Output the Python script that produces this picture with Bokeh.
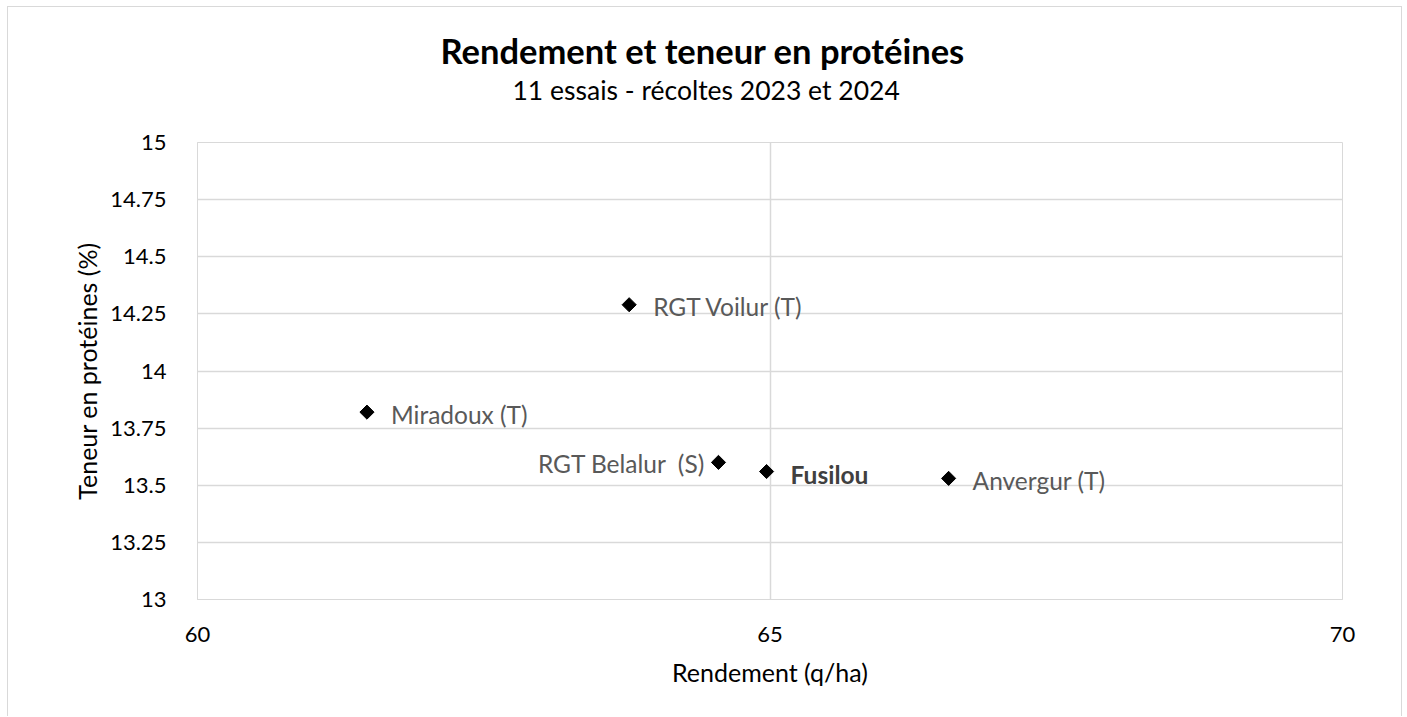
from bokeh.plotting import figure
from bokeh.models import Range1d, FixedTicker, Title, ColumnDataSource
from bokeh.embed import file_html
from bokeh.resources import INLINE

# ---- data ----
varieties = ["Miradoux (T)", "RGT Voilur (T)", "RGT Belalur \u00a0(S)", "Fusilou", "Anvergur (T)"]
rendement = [61.48, 63.77, 64.55, 64.97, 66.56]
proteines = [13.82, 14.29, 13.60, 13.56, 13.53]
x_ticks = [60, 65, 70]
x_tick_labels = ["60", "65", "70"]
y_ticks = [13, 13.25, 13.5, 13.75, 14, 14.25, 14.5, 14.75, 15]
y_tick_labels = ["13", "13.25", "13.5", "13.75", "14", "14.25", "14.5", "14.75", "15"]

title_text = "Rendement et teneur en protéines"
subtitle_text = "11 essais - récoltes 2023 et 2024"
x_title = "Rendement (q/ha)"
y_title = "Teneur en protéines (%)"

FONT = "Lato"
GRID = "#d9d9d9"

p = figure(width=1395, height=710, x_range=Range1d(60, 70), y_range=Range1d(13, 15),
           output_backend="svg", toolbar_location=None, title=title_text,
           min_border_left=189, min_border_right=61, min_border_top=135, min_border_bottom=118)
p.styles = {"margin-left": "7px", "margin-top": "6px",
            "border-left": "1px solid #d9d9d9", "border-top": "1px solid #d9d9d9",
            "border-right": "1px solid #d9d9d9"}

# spacer between subtitle and frame (closest to frame)
p.add_layout(Title(text=" ", text_font=FONT, text_font_size="29px", standoff=0), "above")
# subtitle
p.add_layout(Title(text=subtitle_text, text_font=FONT, text_font_size="26.5px",
                   text_font_style="normal", text_color="#000000", align="left",
                   offset=315, standoff=0), "above")
# main title (outermost)
p.title.text_font = FONT
p.title.text_font_size = "34.5px"
p.title.text_font_style = "bold"
p.title.text_color = "#000000"
p.title.align = "left"
p.title.offset = 243
p.title.standoff = 2

p.background_fill_color = "white"
p.border_fill_color = "white"
p.outline_line_color = GRID

for ax in (p.xaxis[0], p.yaxis[0]):
    ax.axis_line_color = GRID
    ax.major_tick_line_color = None
    ax.minor_tick_line_color = None
    ax.major_label_text_font = FONT
    ax.major_label_text_font_size = "22px"
    ax.major_label_text_color = "#000000"
    ax.axis_label_text_font = FONT
    ax.axis_label_text_font_size = "25px"
    ax.axis_label_text_font_style = "normal"
    ax.axis_label_text_color = "#000000"

p.xaxis.ticker = FixedTicker(ticks=x_ticks)
p.xaxis.major_label_overrides = {t: l for t, l in zip(x_ticks, x_tick_labels)}
p.yaxis.ticker = FixedTicker(ticks=y_ticks)
p.yaxis.major_label_overrides = {t: l for t, l in zip(y_ticks, y_tick_labels)}
p.xaxis.axis_label = x_title
p.yaxis.axis_label = y_title
p.xaxis.major_label_standoff = 21
p.yaxis.major_label_standoff = 25
p.xaxis.axis_label_standoff = 12
p.yaxis.axis_label_standoff = 5

p.xgrid.ticker = FixedTicker(ticks=x_ticks)
p.ygrid.ticker = FixedTicker(ticks=y_ticks)
p.xgrid.grid_line_color = GRID
p.ygrid.grid_line_color = GRID
p.xgrid.grid_line_width = 1.5
p.ygrid.grid_line_width = 1.5

src = ColumnDataSource(dict(x=rendement, y=proteines, name=varieties))
p.scatter("x", "y", source=src, marker="square", angle=0.785398, size=10,
          fill_color="black", line_color="black")

def subset(names):
    idx = [i for i, n in enumerate(varieties) if n in names]
    return ColumnDataSource(dict(x=[rendement[i] for i in idx], y=[proteines[i] for i in idx],
                                 t=[varieties[i] for i in idx]))

right_src = subset(["Miradoux (T)", "RGT Voilur (T)", "Anvergur (T)"])
left_src = subset(["RGT Belalur \u00a0(S)"])
bold_src = subset(["Fusilou"])

common = dict(text_font={"value": FONT}, text_font_size={"value": "24.5px"}, text_baseline="middle")
p.text("x", "y", text="t", source=right_src, x_offset=24, y_offset=2, text_align="left",
       text_color="#595959", **common)
p.text("x", "y", text="t", source=left_src, x_offset=-13, y_offset=1, text_align="right",
       text_color="#595959", **common)
p.text("x", "y", text="t", source=bold_src, x_offset=24, y_offset=3, text_align="left",
       text_color="#404040", text_font_style="bold", **common)

open("out.html", "w").write(file_html(p, INLINE))
